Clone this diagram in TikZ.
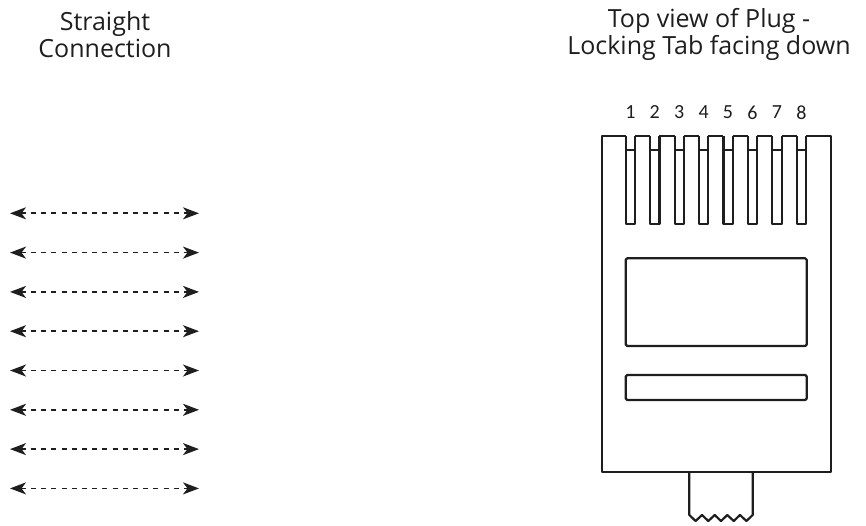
\documentclass[tikz,border=0pt]{standalone}
\usepackage{fontspec}
\setmainfont{Open Sans}
\newfontfamily\pinfont{Carlito}
\usetikzlibrary{arrows.meta}
\definecolor{ink}{HTML}{1E1E1E}
\tikzset{
  plug/.style={draw=ink, line width=2.2pt, line join=round},
  link/.style={draw=ink, line width=1.7pt, dash pattern=on 5pt off 5.2pt,
    {Stealth[length=16pt,width=12pt,inset=4.5pt]}-{Stealth[length=16pt,width=12pt,inset=4.5pt]}},
  heading/.style={align=center, font=\fontsize{25}{27}\selectfont, text=ink}
}
\begin{document}
\begin{tikzpicture}[x=1pt,y=-1pt]
\useasboundingbox (0,0) rectangle (866,525);
\def\con#1#2{
\coordinate (a#1) at (10,#2);
\coordinate (b#1) at (199,#2);
\draw [link] (a#1) -- (b#1);
}
\def\pin#1#2{
\draw [plug] (#2,136) -- (#2,224) -- (#2+9.3,224) -- (#2+9.3,136);
\draw [plug] (#2,150) -- (#2+9.3,150);
\node [font=\pinfont\fontsize{20}{20}\selectfont, text=ink] (n#1) at (#2+4.65,112.5) {#1};
}
\node [heading] (straight) at (105,34.5) {Straight\\Connection};
\node [heading] (topview) at (709,34.5) {Top view of Plug -\\Locking Tab facing down};
\con{1}{213.3}
\con{2}{252.6}
\con{3}{291.9}
\con{4}{331.2}
\con{5}{370.5}
\con{6}{409.8}
\con{7}{449.1}
\con{8}{488.4}
\draw [plug] (625.7,136) -- (601.7,136) -- (601.7,472) -- (830.7,472) -- (830.7,136) -- (806,136);
\pin{1}{625.7}
\pin{2}{650.1}
\pin{3}{674.6}
\pin{4}{699.0}
\pin{5}{723.4}
\pin{6}{747.9}
\pin{7}{772.3}
\pin{8}{796.7}
\draw [plug] (635,136) -- (650.1,136);
\draw [plug] (659.4,136) -- (674.6,136);
\draw [plug] (683.9,136) -- (699.0,136);
\draw [plug] (708.3,136) -- (723.4,136);
\draw [plug] (732.7,136) -- (747.9,136);
\draw [plug] (757.2,136) -- (772.3,136);
\draw [plug] (781.6,136) -- (796.7,136);
\draw [plug, rounded corners=1.5pt] (625.7,258.3) rectangle (806.7,346);
\draw [plug, rounded corners=1.5pt] (625.7,375) rectangle (806.7,400);
\draw [plug] (689.3,472) -- (689.3,515) -- (695.6,521) -- (702,515) -- (708.3,521)
  -- (714.7,515) -- (721,521) -- (727.3,515) -- (733.7,521) -- (740,515)
  -- (746.4,521) -- (752.7,515) -- (752.7,472);
\end{tikzpicture}
\end{document}
